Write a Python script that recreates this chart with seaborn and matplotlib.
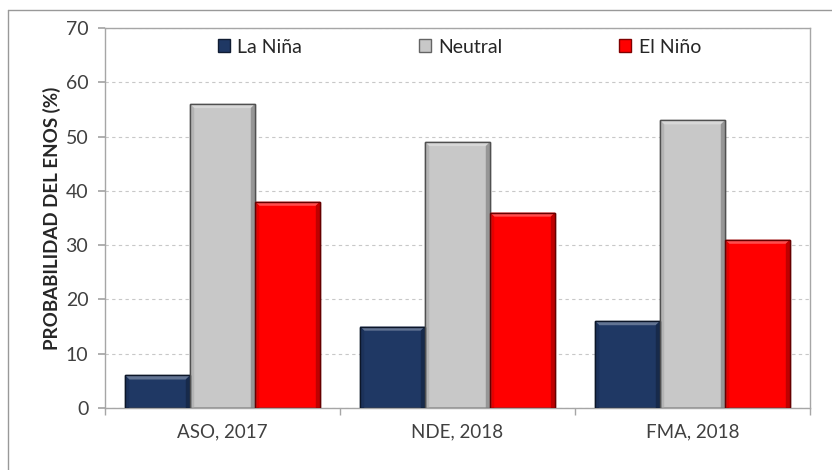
import pandas as pd
import seaborn as sns
import matplotlib.pyplot as plt
import matplotlib.colors as mcolors
from matplotlib.patches import Polygon, Patch
from matplotlib.lines import Line2D

# valores
periodos = ['ASO, 2017', 'NDE, 2018', 'FMA, 2018']
fases = ['La Niña', 'Neutral', 'El Niño']
la_nina = [6, 15, 16]
neutral = [56, 49, 53]
el_nino = [38, 36, 31]
colores = ['#1F3864', '#C8C8C8', '#FF0000']

df = pd.DataFrame({
    'periodo': periodos * 3,
    'fase': [f for f in fases for _ in periodos],
    'valor': la_nina + neutral + el_nino,
})

sns.set_theme(style='white')
plt.rcParams['font.family'] = ['Lato', 'DejaVu Sans']

fig = plt.figure(figsize=(8.32, 4.70), dpi=100)
ax = fig.add_axes([105 / 832, 1 - 408 / 470, 705 / 832, 380 / 470])

sns.barplot(data=df, x='periodo', y='valor', hue='fase', hue_order=fases,
            palette=colores, width=0.83, gap=0, errorbar=None, saturation=1,
            linewidth=1, ax=ax, legend=False)


def mix(c, other, t):
    c = mcolors.to_rgb(c)
    return tuple(a * (1 - t) + b * t for a, b in zip(c, other))


# efecto de bisel sobre cada barra
dx, dy = 0.018, 0.75
for cont, col in zip(ax.containers, colores):
    for p in cont.patches:
        x, y, w, h = p.get_x(), p.get_y(), p.get_width(), p.get_height()
        p.set_edgecolor(mix(col, (0, 0, 0), 0.6))
        p.set_zorder(2)
        light = mix(col, (1, 1, 1), 0.3)
        dark = mix(col, (0, 0, 0), 0.25)
        ax.add_patch(Polygon([(x, y + h), (x + w, y + h), (x + w - dx, y + h - dy), (x + dx, y + h - dy)],
                             closed=True, facecolor=light, edgecolor='none', zorder=3))
        ax.add_patch(Polygon([(x + w, y), (x + w, y + h), (x + w - dx, y + h - dy), (x + w - dx, y)],
                             closed=True, facecolor=dark, edgecolor='none', zorder=3))
        ax.add_patch(Polygon([(x, y), (x, y + h), (x + dx, y + h - dy), (x + dx, y)],
                             closed=True, facecolor=mix(col, (0, 0, 0), 0.1), edgecolor='none', zorder=3))
        ax.add_patch(plt.Rectangle((x, y), w, h, facecolor='none',
                                   edgecolor=mix(col, (0, 0, 0), 0.6), lw=1, zorder=4))

ax.set_ylim(0, 70)
ax.set_xlim(-0.5, 2.5)
ax.set_yticks(range(0, 71, 10))
ax.set_xlabel('')
ax.set_ylabel('PROBABILIDAD DEL ENOS (%)', fontsize=13.5, fontweight='bold', color='#262626', labelpad=3)

ax.set_axisbelow(True)
ax.yaxis.grid(True, color='#c8c8c8', linestyle=(0, (3, 3)), linewidth=0.8)
for s in ax.spines.values():
    s.set_color('#a6a6a6')
    s.set_linewidth(1)

ax.tick_params(axis='y', direction='out', length=5, color='#a6a6a6', labelsize=14, labelcolor='#404040', pad=7, left=True)
ax.tick_params(axis='x', which='major', length=0, labelsize=13.5, labelcolor='#404040', pad=11)
ax.set_xticks([-0.5, 0.5, 1.5, 2.5], minor=True)
ax.tick_params(axis='x', which='minor', direction='out', length=5, color='#a6a6a6', bottom=True)

handles = [Patch(facecolor=c, edgecolor=mix(c, (0, 0, 0), 0.5)) for c in colores]
ax.legend(handles, fases, ncol=3, loc='center', bbox_to_anchor=(0.503, 0.95), frameon=False,
          fontsize=14, handlelength=0.6, handleheight=0.6, handletextpad=0.4, columnspacing=6.0,
          labelcolor='#262626')

# marco exterior del grafico
fig.add_artist(Line2D([8 / 832, 1], [1 - 10 / 470, 1 - 10 / 470], transform=fig.transFigure, color='#999999', lw=1))
fig.add_artist(Line2D([8 / 832, 8 / 832], [0, 1 - 10 / 470], transform=fig.transFigure, color='#999999', lw=1))

fig.savefig('out.png', dpi=100)
